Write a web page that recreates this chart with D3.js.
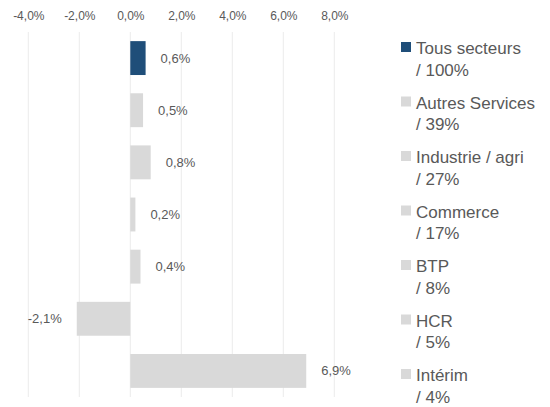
<!DOCTYPE html>
<html>
<head>
<meta charset="utf-8">
<script src="https://cdn.jsdelivr.net/npm/d3@7"></script>
<style>
  body { margin: 0; background: #fff; }
  text { font-family: "Liberation Sans", Arial, sans-serif; fill: #595959; }
</style>
</head>
<body>
<div id="chart-area"></div>
<script>
// data
const sectors = ['Tous secteurs', 'Autres Services', 'Industrie / agri', 'Commerce', 'BTP', 'HCR', 'Intérim']
const shares = ['100%', '39%', '27%', '17%', '8%', '5%', '4%']
const values = [0.6, 0.5, 0.8, 0.2, 0.4, -2.1, 6.9]
const tickValues = [-4, -2, 0, 2, 4, 6, 8]

const width = 550
const height = 407

const svg = d3.select('#chart-area').append('svg')
  .attr('width', width)
  .attr('height', height)

const data = sectors.map((s, i) => ({ sector: s, share: shares[i], value: values[i] }))

const x = d3.scaleLinear()
  .domain([-4, 8])
  .range([28.3, 334.3])

const y = d3.scaleBand()
  .domain(sectors)
  .range([32, 397])
  .paddingInner(0.35)
  .paddingOuter(0.175)

// french style: comma decimal, plain hyphen minus
const fmt = v => d3.format('.1f')(v).replace('.', ',').replace('\u2212', '-') + '%'

// gridlines
svg.append('g')
  .selectAll('line')
  .data(tickValues)
  .enter()
  .append('line')
  .attr('x1', d => x(d))
  .attr('x2', d => x(d))
  .attr('y1', 32)
  .attr('y2', 397)
  .attr('stroke', '#ececec')
  .attr('stroke-width', 1)

// axis on top
const axisTop = d3.axisTop(x).tickValues(tickValues).tickSize(0).tickPadding(0).tickFormat(fmt)
const ax = svg.append('g')
  .attr('transform', 'translate(0, 20)')
  .call(axisTop)
ax.select('.domain').remove()
ax.selectAll('text')
  .attr('font-size', '12px')
  .attr('font-family', '"Liberation Sans", Arial, sans-serif')
  .attr('fill', '#595959')
  .attr('dy', 0)

// bars
svg.append('g')
  .selectAll('rect')
  .data(data)
  .enter()
  .append('rect')
  .attr('x', d => x(Math.min(0, d.value)))
  .attr('y', d => y(d.sector))
  .attr('width', d => Math.abs(x(d.value) - x(0)))
  .attr('height', y.bandwidth())
  .attr('fill', (d, i) => i === 0 ? '#1f4e79' : '#d9d9d9')

// data labels
svg.append('g')
  .selectAll('text')
  .data(data)
  .enter()
  .append('text')
  .attr('x', d => d.value >= 0 ? x(d.value) + 15 : x(d.value) - 15)
  .attr('y', d => y(d.sector) + y.bandwidth() / 2 + 4.5)
  .attr('text-anchor', d => d.value >= 0 ? 'start' : 'end')
  .attr('font-size', '13px')
  .text(d => fmt(d.value))

// legend
const legend = svg.append('g')
  .selectAll('g')
  .data(data)
  .enter()
  .append('g')
  .attr('transform', (d, i) => `translate(401, ${54 + i * 54.5})`)

legend.append('rect')
  .attr('x', 0)
  .attr('y', -12)
  .attr('width', 10)
  .attr('height', 10)
  .attr('fill', (d, i) => i === 0 ? '#1f4e79' : '#d9d9d9')

legend.append('text')
  .attr('x', 15)
  .attr('y', 0)
  .attr('font-size', '17px')
  .text(d => d.sector)

legend.append('text')
  .attr('x', 15)
  .attr('y', 21.5)
  .attr('font-size', '17px')
  .text(d => '/ ' + d.share)
</script>
</body>
</html>
